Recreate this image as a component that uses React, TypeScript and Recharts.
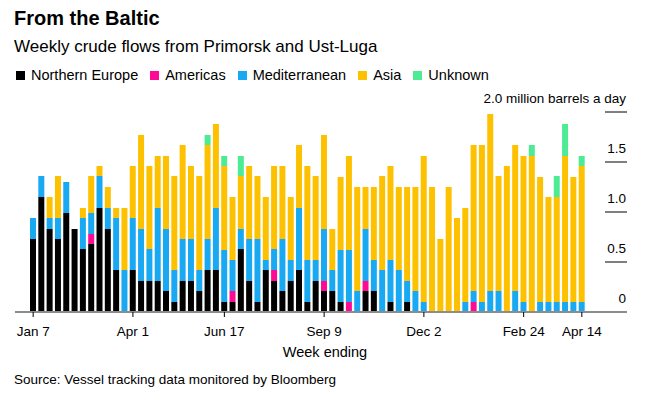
import React from 'react';
import { BarChart, Bar, XAxis, YAxis } from 'recharts';

const weeks = [
  'Jan 7', 'Jan 14', 'Jan 21', 'Jan 28', 'Feb 4', 'Feb 11', 'Feb 18', 'Feb 25', 'Mar 4', 'Mar 11', 'Mar 18', 'Mar 25',
  'Apr 1', 'Apr 8', 'Apr 15', 'Apr 22', 'Apr 29', 'May 6', 'May 13', 'May 20', 'May 27', 'Jun 3', 'Jun 10', 'Jun 17',
  'Jun 24', 'Jul 1', 'Jul 8', 'Jul 15', 'Jul 22', 'Jul 29', 'Aug 5', 'Aug 12', 'Aug 19', 'Aug 26', 'Sep 2', 'Sep 9',
  'Sep 16', 'Sep 23', 'Sep 30', 'Oct 7', 'Oct 14', 'Oct 21', 'Oct 28', 'Nov 4', 'Nov 11', 'Nov 18', 'Nov 25', 'Dec 2',
  'Dec 9', 'Dec 16', 'Dec 23', 'Dec 30', 'Jan 6', 'Jan 13', 'Jan 20', 'Jan 27', 'Feb 3', 'Feb 10', 'Feb 17', 'Feb 24',
  'Mar 3', 'Mar 10', 'Mar 17', 'Mar 24', 'Mar 31', 'Apr 7', 'Apr 14',
];

// million barrels a day
const northernEurope = [
  0.73, 1.15, 0.83, 0.73, 0.99, 0.83, 0.63, 0.68, 1.04, 0.83, 0.42, 0,
  0.42, 0.31, 0.31, 0.31, 0.21, 0.1, 0.31, 0.31, 0.21, 0.42, 0.42, 0.1,
  0.1, 0.63, 0.31, 0.1, 0.42, 0.31, 0.21, 0.31, 0.42, 0.1, 0.31, 0.21,
  0.21, 0.1, 0, 0, 0.21, 0.21, 0, 0.1, 0, 0.1, 0, 0,
  0, 0, 0, 0, 0, 0, 0, 0, 0, 0, 0, 0,
  0, 0, 0, 0, 0, 0, 0,
];
const americas = [
  0, 0, 0, 0, 0, 0, 0, 0.1, 0, 0, 0, 0,
  0, 0, 0, 0, 0, 0, 0, 0, 0, 0, 0, 0,
  0.11, 0, 0, 0, 0, 0.11, 0, 0, 0, 0, 0, 0.1,
  0, 0, 0.1, 0, 0.1, 0, 0, 0, 0, 0, 0, 0,
  0, 0, 0, 0, 0, 0.1, 0, 0, 0, 0, 0, 0,
  0, 0, 0, 0, 0, 0, 0,
];
const mediterranean = [
  0.21, 0.21, 0.11, 0.21, 0.31, 0, 0.31, 0.21, 0.32, 0.21, 0.52, 0.42,
  0.52, 0.52, 0.32, 0.73, 0.62, 0.32, 0.42, 0.42, 0.21, 0.31, 0.62, 0.52,
  0.31, 0.2, 0.42, 0.63, 0.1, 0.21, 0.52, 0.21, 0.62, 0.42, 0.21, 0.52,
  0.21, 0.52, 0.52, 0.21, 0.52, 0.31, 0.42, 0.42, 0.42, 0.21, 0.21, 0.1,
  0, 0, 0, 0, 0.1, 0.11, 0.1, 0.21, 0.21, 0, 0.21, 0.1,
  0, 0.1, 0.1, 0.1, 0.1, 0.1, 0.1,
];
const asia = [
  0, 0, 0.21, 0.42, 0, 0, 0.1, 0.37, 0.1, 0.21, 0.1, 0.62,
  0.52, 0.94, 0.83, 0.52, 0.73, 0.94, 0.94, 0.73, 0.94, 0.94, 0.84, 0.84,
  0.63, 0.53, 0.73, 0.63, 0.63, 0.83, 0.73, 0.63, 0.63, 0.94, 0.84, 0.94,
  0.41, 0.73, 0.94, 1.04, 0.42, 0.73, 0.94, 0.94, 0.83, 0.94, 1.04, 1.46,
  1.25, 0.73, 1.25, 0.94, 0.94, 1.46, 1.57, 1.77, 1.15, 1.46, 1.46, 1.46,
  1.56, 1.25, 1.05, 1.05, 1.46, 1.25, 1.36,
];
const unknown = [
  0, 0, 0, 0, 0, 0, 0, 0, 0, 0, 0, 0,
  0, 0, 0, 0, 0, 0, 0, 0, 0, 0.1, 0, 0.1,
  0, 0.2, 0, 0, 0, 0, 0, 0, 0, 0, 0, 0,
  0, 0, 0, 0, 0, 0, 0, 0, 0, 0, 0, 0,
  0, 0, 0, 0, 0, 0, 0, 0, 0, 0, 0, 0,
  0.11, 0, 0, 0.21, 0.32, 0, 0.1,
];

const xTicks = ['Jan 7', 'Apr 1', 'Jun 17', 'Sep 9', 'Dec 2', 'Feb 24', 'Apr 14'];
const yTicks = [0, 0.5, 1, 1.5, 2];

const series = [
  { key: 'ne', name: 'Northern Europe', color: '#000000' },
  { key: 'am', name: 'Americas', color: '#ff0a93' },
  { key: 'med', name: 'Mediterranean', color: '#19a9f2' },
  { key: 'asia', name: 'Asia', color: '#fec100' },
  { key: 'unk', name: 'Unknown', color: '#4eeb95' },
];

const data = weeks.map((week, i) => ({
  week,
  ne: northernEurope[i],
  am: americas[i],
  med: mediterranean[i],
  asia: asia[i],
  unk: unknown[i],
}));

const FONT = '"Liberation Sans", Arial, sans-serif';
const W = 667;
const H = 398;
const margin = { top: 112, right: 39, bottom: 56, left: 15 };
const plotRight = W - margin.right - 1;

const XTick = (props: any) => {
  const { x, y, payload } = props;
  if (!xTicks.includes(payload.value)) return null;
  return (
    <g>
      <line x1={x} x2={x} y1={y - 8} y2={y - 3} stroke="#000" strokeWidth={1} />
      <text x={x} y={y + 16} textAnchor="middle" fontSize={13.5} fill="#000" fontFamily={FONT}>
        {payload.value}
      </text>
    </g>
  );
};

const YTick = (props: any) => {
  const { y, payload } = props;
  const v = Number(payload.value);
  const label = v === 0 ? '0' : v === 2 ? '2.0 million barrels a day' : v.toFixed(1);
  return (
    <g>
      {v !== 0 && <line x1={plotRight - 22} x2={plotRight} y1={y} y2={y} stroke="#000" strokeWidth={1} />}
      <text x={plotRight - 1} y={y - 9} textAnchor="end" fontSize={13.5} fill="#000" fontFamily={FONT}>
        {label}
      </text>
    </g>
  );
};

export default function App() {
  return (
    <div style={{ position: 'absolute', left: 0, top: 0, width: W, height: H, background: '#fff', fontFamily: FONT, color: '#000' }}>
      <div style={{ position: 'absolute', left: 14, top: 6, fontSize: 20, fontWeight: 700, lineHeight: '24px' }}>
        From the Baltic
      </div>
      <div style={{ position: 'absolute', left: 14, top: 36, fontSize: 17, lineHeight: '22px' }}>
        Weekly crude flows from Primorsk and Ust-Luga
      </div>
      <div style={{ position: 'absolute', left: 16, top: 66, display: 'flex', fontSize: 14.5, lineHeight: '18px' }}>
        {series.map((s) => (
          <div key={s.key} style={{ display: 'flex', alignItems: 'center', marginRight: 12 }}>
            <span style={{ width: 9, height: 9, background: s.color, display: 'inline-block', marginRight: 6 }} />
            <span>{s.name}</span>
          </div>
        ))}
      </div>
      <div style={{ position: 'absolute', left: 0, top: 0 }}>
        <BarChart width={W} height={H} data={data} margin={margin}>
          <XAxis
            dataKey="week"
            interval={0}
            height={30}
            padding={{ left: 14, right: 41 }}
            tickLine={false}
            axisLine={{ stroke: '#8c8c8c', strokeWidth: 2 }}
            tick={<XTick />}
          />
          <YAxis
            orientation="right"
            width={1}
            type="number"
            domain={[0, 2]}
            ticks={yTicks}
            interval={0}
            axisLine={false}
            tickLine={false}
            tick={<YTick />}
          />
          {series.map((s) => (
            <Bar key={s.key} dataKey={s.key} stackId="a" fill={s.color} barSize={6} isAnimationActive={false} />
          ))}
        </BarChart>
      </div>
      <div style={{ position: 'absolute', left: 0, width: 650, top: 343, textAlign: 'center', fontSize: 14.5, lineHeight: '18px' }}>
        Week ending
      </div>
      <div style={{ position: 'absolute', left: 14, top: 371, fontSize: 13.5, lineHeight: '18px' }}>
        Source: Vessel tracking data monitored by Bloomberg
      </div>
    </div>
  );
}
